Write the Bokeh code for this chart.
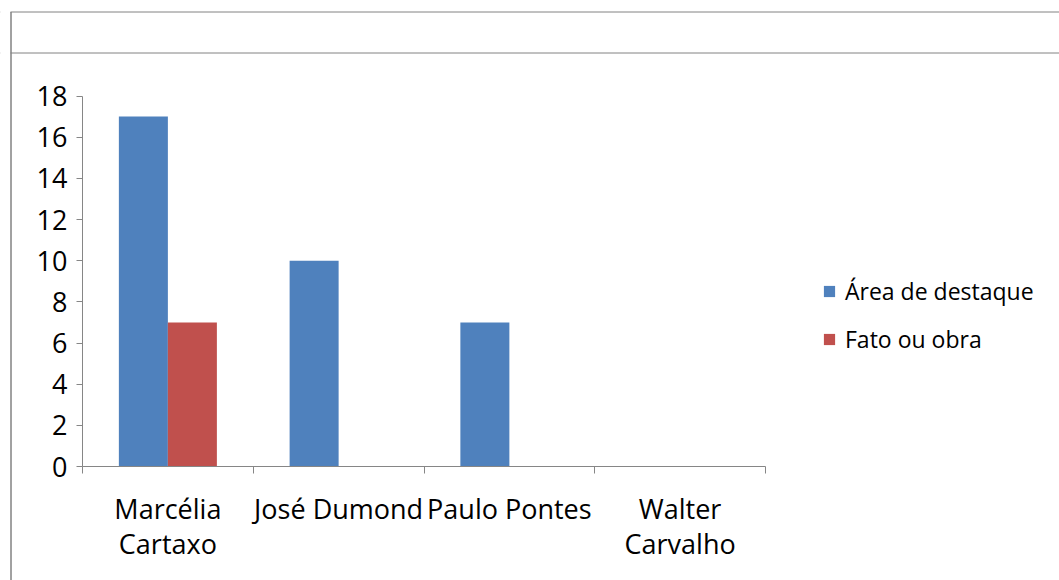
from bokeh.plotting import figure
from bokeh.models import Range1d, FixedTicker, Legend, LegendItem, BoxAnnotation, Span
from bokeh.embed import file_html
from bokeh.resources import INLINE
import numpy as np

# Data
categories = ["Marcélia\nCartaxo", "José Dumond", "Paulo Pontes", "Walter\nCarvalho"]
series_names = ["Área de destaque", "Fato ou obra"]
area_destaque = [17, 10, 7, 0]
fato_ou_obra = [7, 0, 0, 0]
y_ticks = [0, 2, 4, 6, 8, 10, 12, 14, 16, 18]

# Styling
colors = ["#4F81BD", "#C0504D"]
axis_gray = "#868686"
border_gray = "#828282"
font = "Open Sans"
bar_w = 0.287

# Canvas layout (pixels): plot area spans x 82..765, y 95.5..466
W, H = 1059, 580
px_left, px_right = 82, 765
px_top, px_bottom = 95.5, 466
n = len(categories)
y_max = y_ticks[-1]
sx = (px_right - px_left) / n
sy = (px_bottom - px_top) / y_max

x_range = Range1d(-px_left / sx, n + (W - px_right) / sx)
y_range = Range1d(-(H - px_bottom) / sy, y_max + px_top / sy)

p = figure(width=W, height=H, output_backend="svg", toolbar_location=None,
           x_range=x_range, y_range=y_range, title=None,
           min_border=0, min_border_left=0, min_border_right=0,
           min_border_top=0, min_border_bottom=0)
p.outline_line_color = None
p.background_fill_color = "white"
p.border_fill_color = "white"
p.xgrid.visible = False
p.ygrid.visible = False

centers = np.arange(n) + 0.5
r1 = p.vbar(x=centers - bar_w / 2, top=area_destaque, width=bar_w,
            fill_color=colors[0], line_color=None)
r2 = p.vbar(x=centers + bar_w / 2, top=fato_ou_obra, width=bar_w,
            fill_color=colors[1], line_color=None)

# x axis: labels at category centres, ticks at category boundaries
xa = p.xaxis[0]
xa.fixed_location = 0
xa.bounds = (0, n)
xa.ticker = FixedTicker(ticks=list(centers), minor_ticks=list(range(n + 1)))
xa.major_label_overrides = {float(c): name for c, name in zip(centers, categories)}
xa.major_tick_line_color = None
xa.major_tick_out = 0
xa.major_tick_in = 0
xa.minor_tick_line_color = axis_gray
xa.minor_tick_out = 7
xa.minor_tick_in = 0
xa.axis_line_color = axis_gray
xa.major_label_text_font = font
xa.major_label_text_font_size = "27px"
xa.major_label_text_color = "black"
xa.major_label_text_line_height = 0.95
xa.major_label_standoff = 16

ya = p.yaxis[0]
ya.fixed_location = 0
ya.bounds = (0, y_max)
ya.ticker = FixedTicker(ticks=y_ticks, minor_ticks=[])
ya.major_tick_line_color = axis_gray
ya.major_tick_out = 6
ya.major_tick_in = 0
ya.axis_line_color = axis_gray
ya.major_label_text_font = font
ya.major_label_text_font_size = "27px"
ya.major_label_text_color = "black"
ya.major_label_standoff = 9

legend = Legend(items=[LegendItem(label=series_names[0], renderers=[r1]),
                       LegendItem(label=series_names[1], renderers=[r2])],
                location=(822, 224), glyph_width=14, glyph_height=14,
                label_height=34, spacing=14, label_standoff=9, padding=0, margin=0,
                label_text_font=font, label_text_font_size="23px",
                label_text_color="black", border_line_color=None,
                background_fill_alpha=0)
p.add_layout(legend)

# chart border: top edge and header divider across the width,
# trimmed on the left by a white strip, then the left edge
for y in (11.5, 52.5):
    p.add_layout(Span(location=y, location_units="canvas", dimension="width",
                      line_color=border_gray, line_width=1, level="overlay"))
p.add_layout(BoxAnnotation(left=0, right=10, top=0, bottom=60,
                           left_units="canvas", right_units="canvas",
                           top_units="canvas", bottom_units="canvas",
                           fill_color="white", fill_alpha=1.0, line_color=None,
                           level="overlay"))
p.add_layout(BoxAnnotation(left=10.5, right=10.5, top=11.5, bottom=H + 0.5,
                           left_units="canvas", right_units="canvas",
                           top_units="canvas", bottom_units="canvas",
                           fill_alpha=0, line_color=border_gray, line_alpha=1.0,
                           line_width=1, level="overlay"))

open("out.html", "w").write(file_html(p, INLINE))
